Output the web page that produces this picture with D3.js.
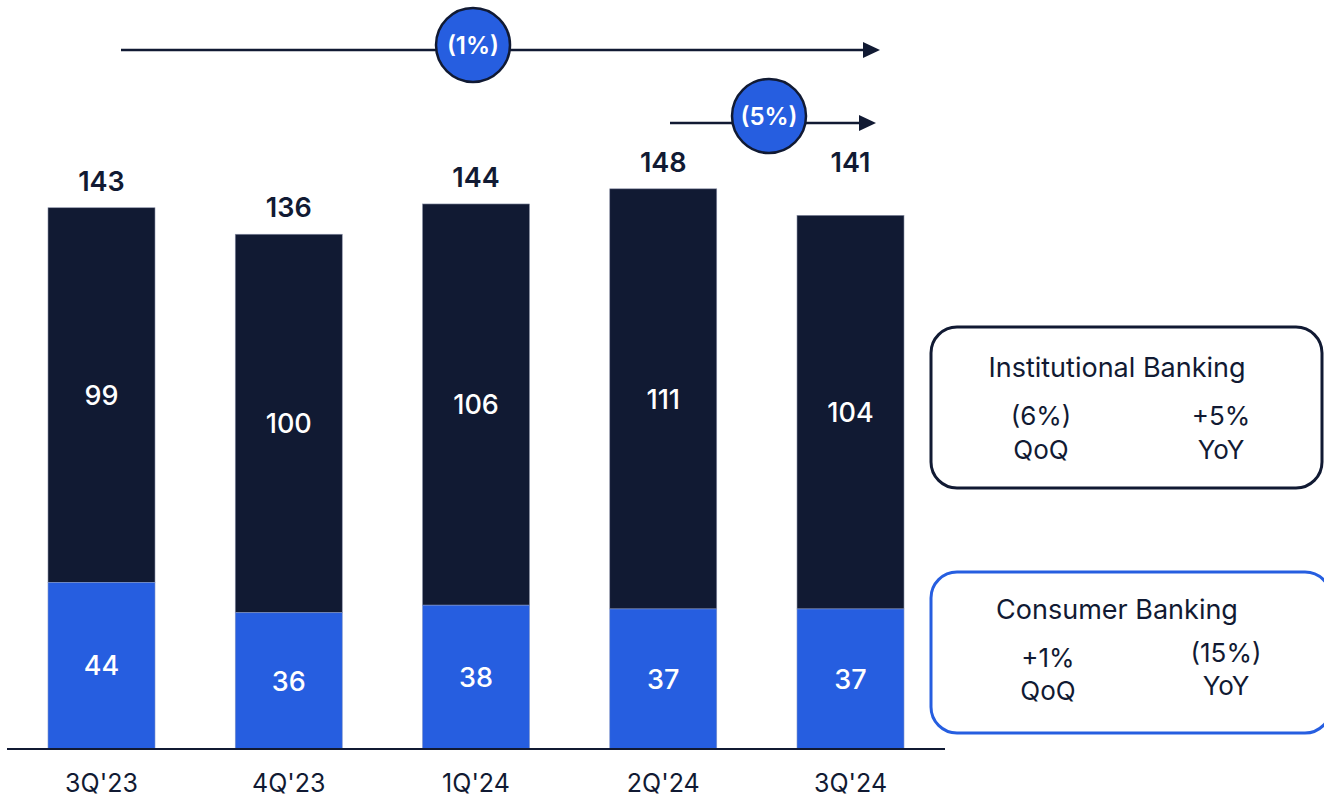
<!DOCTYPE html>
<meta charset="utf-8">
<style>
html, body { margin: 0; padding: 0; background: #fff; overflow: hidden; }
svg { display: block; }
text { font-family: Inter, "Noto Sans", sans-serif; }
</style>
<svg width="1324" height="799"></svg>
<script src="https://d3js.org/d3.v7.min.js"></script>
<script>

var quarters = ["3Q'23", "4Q'23", "1Q'24", "2Q'24", "3Q'24"];
var consumer = [44, 36, 38, 37, 37];
var institutional = [99, 100, 106, 111, 104];
var totals = [143, 136, 144, 148, 141];

var navy = "#111a33", blue = "#265ee0";

var svg = d3.select("svg");

var x = d3.scaleBand()
    .domain(quarters)
    .range([48, 904])
    .paddingInner(0.4286)
    .paddingOuter(0);

var y = d3.scaleLinear()
    .domain([0, 150])
    .range([749, 749 - 150 * 3.785]);

var rows = quarters.map(function(q, i) {
  return { q: q, c: consumer[i], inst: institutional[i], t: totals[i] };
});

// institutional (top) segment
svg.selectAll("rect.inst")
  .data(rows)
  .enter().append("rect")
    .attr("class", "inst")
    .attr("x", function(d) { return x(d.q); })
    .attr("width", x.bandwidth())
    .attr("y", function(d) { return y(d.c + d.inst); })
    .attr("height", function(d) { return y(d.c) - y(d.c + d.inst); })
    .attr("fill", navy)
    .attr("stroke", "#8a90a6")
    .attr("stroke-width", 0.6);

// consumer (bottom) segment
svg.selectAll("rect.cons")
  .data(rows)
  .enter().append("rect")
    .attr("class", "cons")
    .attr("x", function(d) { return x(d.q); })
    .attr("width", x.bandwidth())
    .attr("y", function(d) { return y(d.c); })
    .attr("height", function(d) { return y(0) - y(d.c); })
    .attr("fill", blue)
    .attr("stroke", "#7f93c8")
    .attr("stroke-width", 0.6);

// axis baseline + labels
svg.append("line")
    .attr("x1", 7).attr("x2", 945)
    .attr("y1", y(0)).attr("y2", y(0))
    .attr("stroke", navy).attr("stroke-width", 2);

svg.selectAll("text.cat")
  .data(quarters)
  .enter().append("text")
    .attr("class", "cat")
    .attr("x", function(d) { return x(d) + x.bandwidth() / 2; })
    .attr("y", 792)
    .attr("text-anchor", "middle")
    .attr("font-size", 25)
    .attr("fill", navy)
    .text(function(d) { return d; });

// totals (the last one is lifted to line up with the previous, under the arrow)
svg.selectAll("text.total")
  .data(rows)
  .enter().append("text")
    .attr("class", "total")
    .attr("x", function(d) { return x(d.q) + x.bandwidth() / 2; })
    .attr("y", function(d, i) {
      var v = i === rows.length - 1 ? rows[i - 1].t : d.t;
      return y(v) - 17;
    })
    .attr("text-anchor", "middle")
    .attr("font-size", 27)
    .attr("font-weight", 600)
    .attr("fill", navy)
    .text(function(d) { return d.t; });

// segment values
svg.selectAll("text.instv")
  .data(rows)
  .enter().append("text")
    .attr("x", function(d) { return x(d.q) + x.bandwidth() / 2; })
    .attr("y", function(d) { return (y(d.c) + y(d.c + d.inst)) / 2; })
    .attr("dy", "0.36em")
    .attr("text-anchor", "middle")
    .attr("font-size", 27)
    .attr("font-weight", 500)
    .attr("fill", "#fff")
    .text(function(d) { return d.inst; });

svg.selectAll("text.consv")
  .data(rows)
  .enter().append("text")
    .attr("x", function(d) { return x(d.q) + x.bandwidth() / 2; })
    .attr("y", function(d) { return (y(0) + y(d.c)) / 2; })
    .attr("dy", "0.36em")
    .attr("text-anchor", "middle")
    .attr("font-size", 27)
    .attr("font-weight", 500)
    .attr("fill", "#fff")
    .text(function(d) { return d.c; });

// growth arrows
var arrows = [
  { label: "(1%)", x1: 121, x2: 880, y: 50, cx: 473, cy: 45 },
  { label: "(5%)", x1: 670, x2: 876, y: 123, cx: 769, cy: 116 }
];

arrows.forEach(function(a) {
  svg.append("line")
      .attr("x1", a.x1).attr("x2", a.x2 - 10)
      .attr("y1", a.y).attr("y2", a.y)
      .attr("stroke", navy).attr("stroke-width", 2.5);
  svg.append("path")
      .attr("d", "M" + (a.x2 - 17) + "," + (a.y - 8) + "L" + a.x2 + "," + a.y + "L" + (a.x2 - 17) + "," + (a.y + 8) + "Z")
      .attr("fill", navy);
  svg.append("circle")
      .attr("cx", a.cx).attr("cy", a.cy).attr("r", 37)
      .attr("fill", blue).attr("stroke", navy).attr("stroke-width", 2.5);
  svg.append("text")
      .attr("x", a.cx).attr("y", a.cy)
      .attr("dy", "0.36em")
      .attr("text-anchor", "middle")
      .attr("font-size", 24)
      .attr("font-weight", 600)
      .attr("fill", "#fff")
      .text(a.label);
});

// growth boxes
var boxes = [
  { title: "Institutional Banking", stroke: navy, x: 931, y: 327, w: 391, h: 161, ty: 377,
    cols: [ { x: 1041, v: "(6%)", vy: 425, l: "QoQ", ly: 459 },
            { x: 1221, v: "+5%", vy: 425, l: "YoY", ly: 459 } ] },
  { title: "Consumer Banking", stroke: blue, x: 931, y: 572, w: 400, h: 161, ty: 619,
    cols: [ { x: 1048, v: "+1%", vy: 667, l: "QoQ", ly: 700 },
            { x: 1226, v: "(15%)", vy: 662, l: "YoY", ly: 695 } ] }
];

boxes.forEach(function(b) {
  svg.append("rect")
      .attr("x", b.x).attr("y", b.y)
      .attr("width", b.w).attr("height", b.h)
      .attr("rx", 26).attr("ry", 26)
      .attr("fill", "#fff")
      .attr("stroke", b.stroke).attr("stroke-width", 3);
  svg.append("text")
      .attr("x", b.x + 186).attr("y", b.ty)
      .attr("text-anchor", "middle")
      .attr("font-size", 27)
      .attr("fill", navy)
      .text(b.title);
  b.cols.forEach(function(c) {
    svg.append("text")
        .attr("x", c.x).attr("y", c.vy)
        .attr("text-anchor", "middle")
        .attr("font-size", 26)
        .attr("fill", navy)
        .text(c.v);
    svg.append("text")
        .attr("x", c.x).attr("y", c.ly)
        .attr("text-anchor", "middle")
        .attr("font-size", 26)
        .attr("fill", navy)
        .text(c.l);
  });
});

</script>
